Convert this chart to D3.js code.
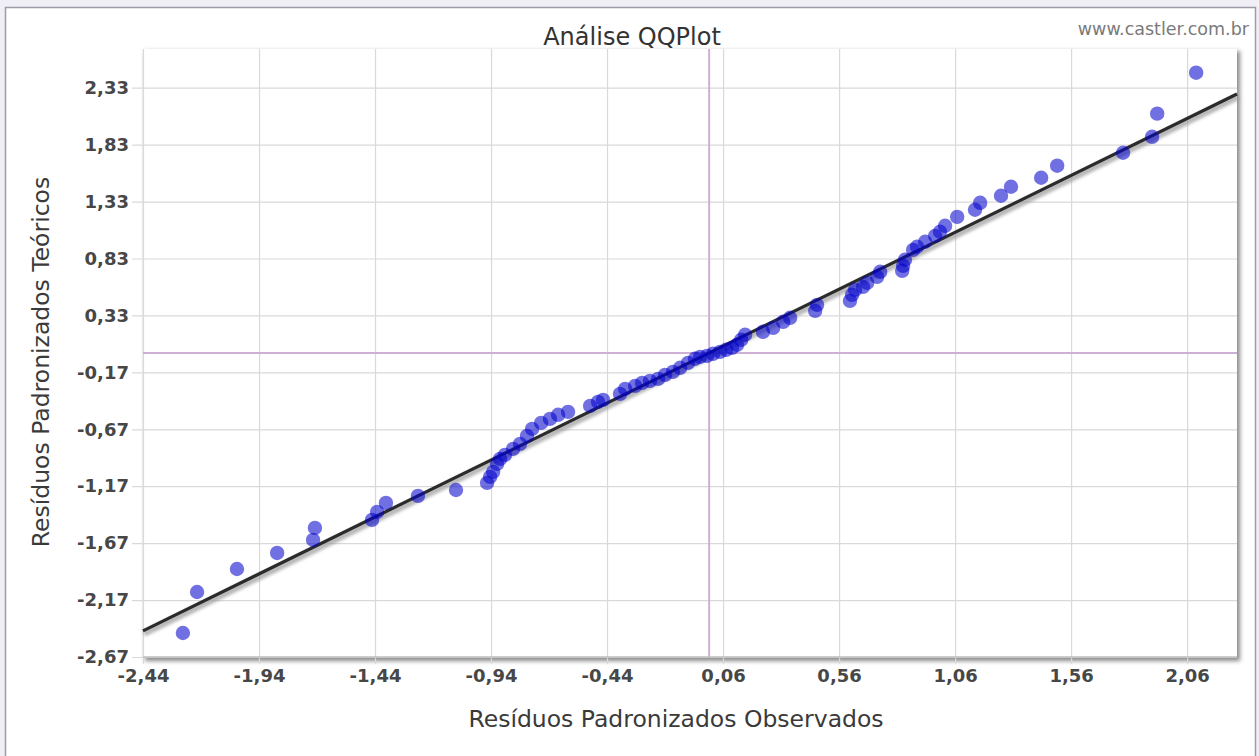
<!DOCTYPE html>
<html><head><meta charset="utf-8">
<script src="https://cdn.jsdelivr.net/npm/d3@7"></script>
<style>
html,body{margin:0;padding:0;background:#f0eff6;}
svg{display:block;font-family:"DejaVu Sans",Verdana,sans-serif;}
</style></head><body>
<svg id="c" width="1259" height="756"></svg>
<script>
// ---- data ----
const chartTitle = "Análise QQPlot";
const xTitle = "Resíduos Padronizados Observados";
const yTitle = "Resíduos Padronizados Teóricos";
const credit = "www.castler.com.br";

const xDomain = [-2.44, 2.275];
const yDomain = [-2.67, 2.67];

const xTickValues = [-2.44, -1.94, -1.44, -0.94, -0.44, 0.06, 0.56, 1.06, 1.56, 2.06];
const xTickLabels = ["-2,44", "-1,94", "-1,44", "-0,94", "-0,44", "0,06", "0,56", "1,06", "1,56", "2,06"];
const yTickValues = [-2.67, -2.17, -1.67, -1.17, -0.67, -0.17, 0.33, 0.83, 1.33, 1.83, 2.33];
const yTickLabels = ["-2,67", "-2,17", "-1,67", "-1,17", "-0,67", "-0,17", "0,33", "0,83", "1,33", "1,83", "2,33"];

const observed = [
  -2.268, -2.207, -2.035, -1.862, -1.707, -1.699, -1.453, -1.431, -1.393, -1.255,
  -1.091, -0.957, -0.944, -0.931, -0.914, -0.901, -0.880, -0.845, -0.815, -0.785,
  -0.763, -0.724, -0.686, -0.651, -0.608, -0.513, -0.479, -0.457, -0.384, -0.362,
  -0.319, -0.289, -0.255, -0.220, -0.190, -0.156, -0.125, -0.091, -0.061, -0.039,
  -0.009, 0.017, 0.047, 0.073, 0.099, 0.120, 0.138, 0.155, 0.232, 0.276,
  0.319, 0.349, 0.457, 0.465, 0.607, 0.616, 0.629, 0.663, 0.681, 0.724,
  0.737, 0.832, 0.836, 0.844, 0.879, 0.896, 0.931, 0.974, 0.995, 1.017,
  1.069, 1.146, 1.168, 1.258, 1.301, 1.431, 1.500, 1.784, 1.909, 1.931, 2.099
];
const theoretical = [
  -2.459, -2.099, -1.897, -1.756, -1.642, -1.536, -1.466, -1.396, -1.317, -1.255,
  -1.203, -1.141, -1.088, -1.044, -0.974, -0.930, -0.895, -0.842, -0.798, -0.728,
  -0.666, -0.614, -0.579, -0.543, -0.517, -0.464, -0.429, -0.412, -0.359, -0.315,
  -0.289, -0.262, -0.245, -0.227, -0.192, -0.166, -0.130, -0.087, -0.051, -0.034,
  -0.025, -0.007, 0.010, 0.028, 0.045, 0.072, 0.116, 0.160, 0.186, 0.221,
  0.274, 0.309, 0.370, 0.423, 0.458, 0.511, 0.555, 0.581, 0.616, 0.669,
  0.713, 0.722, 0.766, 0.819, 0.906, 0.933, 0.977, 1.029, 1.065, 1.117,
  1.196, 1.258, 1.319, 1.381, 1.460, 1.539, 1.645, 1.759, 1.899, 2.102, 2.462
];
const refLineX = [-2.44, 2.275];
const refLineY = [-2.44, 2.275];
const zeroX = 0, zeroY = 0;

// ---- layout ----
const P = {left: 143, right: 1237, top: 49, bottom: 657};
const svg = d3.select("#c");

const defs = svg.append("defs");
defs.append("filter").attr("id", "blur2").attr("x", "-5%").attr("y", "-5%").attr("width", "110%").attr("height", "110%")
  .append("feGaussianBlur").attr("stdDeviation", 2);
defs.append("filter").attr("id", "blur1").attr("x", "-5%").attr("y", "-50%").attr("width", "110%").attr("height", "200%")
  .append("feGaussianBlur").attr("stdDeviation", 1.6);
defs.append("filter").attr("id", "soft")
  .append("feGaussianBlur").attr("stdDeviation", 0.6);

// outer frame
svg.append("rect").attr("x", 5.5).attr("y", 7.5).attr("width", 1250).attr("height", 752)
  .attr("fill", "#ffffff").attr("stroke", "#9d9ca6").attr("stroke-width", 1.5);

const x = d3.scaleLinear().domain(xDomain).range([P.left, P.right]);
const y = d3.scaleLinear().domain(yDomain).range([P.bottom, P.top]);

// plot shadow + background
svg.append("rect").attr("x", P.left + 2).attr("y", P.top + 2)
  .attr("width", P.right - P.left + 1).attr("height", P.bottom - P.top + 2)
  .attr("fill", "#8a8a8a").attr("filter", "url(#blur2)");
svg.append("rect").attr("x", P.left).attr("y", P.top)
  .attr("width", P.right - P.left).attr("height", P.bottom - P.top).attr("fill", "#ffffff");

// x axis with full-height grid
const tickExt = 7;
const gx = svg.append("g").attr("transform", `translate(0,${P.bottom + tickExt})`)
  .call(d3.axisBottom(x).tickValues(xTickValues).tickFormat((d, i) => xTickLabels[i])
    .tickSize(-(P.bottom + tickExt - P.top)).tickSizeOuter(0).tickPadding(5));
gx.select(".domain").remove();
gx.selectAll(".tick line").attr("stroke", "#d9d9d9").attr("stroke-width", 1.2);
gx.selectAll(".tick text").attr("fill", "#474747").attr("font-size", 18).attr("font-weight", "bold")
  .attr("font-family", '"DejaVu Sans",Verdana,sans-serif');

// y axis with full-width grid
const yTickExt = 11;
const gy = svg.append("g").attr("transform", `translate(${P.left - yTickExt},0)`)
  .call(d3.axisLeft(y).tickValues(yTickValues).tickFormat((d, i) => yTickLabels[i])
    .tickSize(-(P.right - P.left + yTickExt)).tickSizeOuter(0).tickPadding(3));
gy.select(".domain").remove();
gy.selectAll(".tick line").attr("stroke", "#d9d9d9").attr("stroke-width", 1.2);
gy.selectAll(".tick text").attr("fill", "#474747").attr("font-size", 18).attr("font-weight", "bold")
  .attr("font-family", '"DejaVu Sans",Verdana,sans-serif');

// bottom axis line
svg.append("line").attr("x1", P.left).attr("x2", P.right).attr("y1", P.bottom).attr("y2", P.bottom)
  .attr("stroke", "#bdbdbd").attr("stroke-width", 1.5);

// zero lines (purple)
svg.append("line").attr("x1", P.left).attr("x2", P.right).attr("y1", y(zeroY)).attr("y2", y(zeroY))
  .attr("stroke", "#cdb0d4").attr("stroke-width", 2);
svg.append("line").attr("x1", x(zeroX)).attr("x2", x(zeroX)).attr("y1", P.top).attr("y2", P.bottom)
  .attr("stroke", "#cdb0d4").attr("stroke-width", 2);

// reference line with shadow
const ref = refLineX.map((v, i) => [v, refLineY[i]]);
const lineGen = d3.line().x(d => x(d[0])).y(d => y(d[1]));
svg.append("path").datum(ref).attr("d", lineGen).attr("transform", "translate(1,3)")
  .attr("fill", "none").attr("stroke", "#9a9a9a").attr("stroke-width", 6).attr("opacity", 0.7)
  .attr("filter", "url(#blur1)");
svg.append("path").datum(ref).attr("d", lineGen)
  .attr("fill", "none").attr("stroke", "#2b2b2b").attr("stroke-width", 3.2);

// points
svg.append("g").selectAll("circle").data(observed.map((v, i) => [v, theoretical[i]]))
  .join("circle")
  .attr("cx", d => x(d[0])).attr("cy", d => y(d[1])).attr("r", 7.2)
  .attr("fill", "#0000cc").attr("fill-opacity", 0.56).attr("filter", "url(#soft)");

// texts
svg.append("text").attr("x", 632).attr("y", 45).attr("text-anchor", "middle")
  .attr("font-size", 24).attr("fill", "#333").text(chartTitle);
svg.append("text").attr("x", 1249).attr("y", 35).attr("text-anchor", "end")
  .attr("font-size", 17.5).attr("fill", "#7a7a7a").text(credit);
svg.append("text").attr("x", 676).attr("y", 727).attr("text-anchor", "middle")
  .attr("font-size", 23.5).attr("fill", "#3a3a3a").text(xTitle);
svg.append("text").attr("transform", "translate(49,362) rotate(-90)").attr("text-anchor", "middle")
  .attr("font-size", 23.5).attr("fill", "#3a3a3a").text(yTitle);
</script></body></html>
